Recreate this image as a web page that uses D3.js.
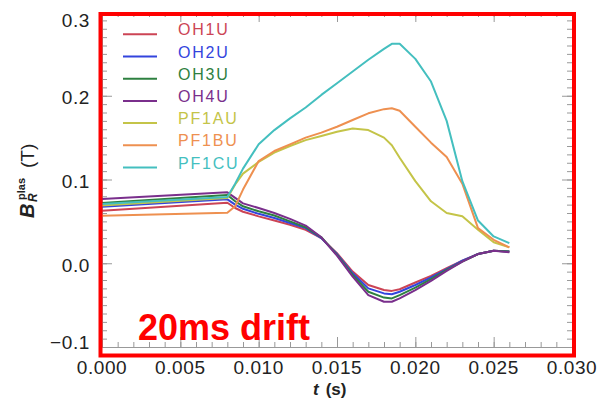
<!DOCTYPE html>
<html>
<head>
<meta charset="utf-8">
<script src="https://cdn.jsdelivr.net/npm/d3@7"></script>
<style>
  html, body { margin: 0; padding: 0; background: #fff; }
  svg { display: block; }
</style>
</head>
<body>
<svg id="chart" width="597" height="403"></svg>
<script>
// ---- data ----
const time = [0, 0.008, 0.0085, 0.009, 0.010, 0.011, 0.012, 0.013, 0.014, 0.015, 0.016, 0.017, 0.018, 0.0185, 0.019, 0.020, 0.021, 0.022, 0.023, 0.024, 0.025, 0.026];
const seriesNames = ["OH1U", "OH2U", "OH3U", "OH4U", "PF1AU", "PF1BU", "PF1CU"];
const OH1U  = [0.0626, 0.0722, 0.066, 0.0615, 0.056, 0.051, 0.046, 0.040, 0.030, 0.012, -0.010, -0.026, -0.032, -0.033, -0.031, -0.023, -0.015, -0.006, 0.003, 0.011, 0.015, 0.014];
const OH2U  = [0.0674, 0.0763, 0.070, 0.065, 0.059, 0.054, 0.048, 0.042, 0.030, 0.011, -0.012, -0.030, -0.036, -0.037, -0.034, -0.026, -0.017, -0.007, 0.003, 0.011, 0.015, 0.014];
const OH3U  = [0.0720, 0.0814, 0.074, 0.068, 0.062, 0.057, 0.050, 0.043, 0.031, 0.010, -0.014, -0.034, -0.041, -0.042, -0.038, -0.029, -0.019, -0.008, 0.002, 0.011, 0.015, 0.014];
const OH4U  = [0.0767, 0.0847, 0.078, 0.0715, 0.066, 0.060, 0.053, 0.045, 0.031, 0.009, -0.016, -0.038, -0.046, -0.046, -0.042, -0.032, -0.021, -0.009, 0.002, 0.011, 0.015, 0.013];
const PF1AU = [0.0690, 0.0780, 0.094, 0.107, 0.121, 0.132, 0.140, 0.147, 0.152, 0.157, 0.161, 0.159, 0.150, 0.141, 0.126, 0.098, 0.074, 0.060, 0.056, 0.040, 0.025, 0.019];
const PF1BU = [0.0566, 0.0602, 0.068, 0.088, 0.122, 0.134, 0.142, 0.150, 0.156, 0.163, 0.171, 0.179, 0.184, 0.185, 0.182, 0.163, 0.144, 0.127, 0.095, 0.042, 0.028, 0.019];
const PF1CU = [0.0707, 0.0790, 0.095, 0.113, 0.142, 0.159, 0.173, 0.186, 0.201, 0.215, 0.229, 0.243, 0.256, 0.262, 0.262, 0.244, 0.217, 0.170, 0.098, 0.051, 0.032, 0.024];
const xTicks = [0, 0.005, 0.010, 0.015, 0.020, 0.025, 0.030];
const yTicks = [-0.1, 0.0, 0.1, 0.2, 0.3];
const annotation = "20ms drift";

const seriesValues = [OH1U, OH2U, OH3U, OH4U, PF1AU, PF1BU, PF1CU];
const colors = ["#cc4455", "#3344dd", "#2e8040", "#7a2f8c", "#c4c448", "#ee9050", "#44bfbf"];

// ---- layout ----
const svg = d3.select("#chart");
const x = d3.scaleLinear().domain([0, 0.030]).range([102, 572]);
const y = d3.scaleLinear().domain([-0.1, 0.3]).range([347, 12]);
const tickColor = "#999";

// axes (ticks inward)
function styleAxis(g) {
  g.selectAll("path.domain").attr("stroke", tickColor).attr("stroke-width", 1);
  g.selectAll(".tick line").attr("stroke", tickColor).attr("stroke-width", 1);
  g.selectAll("text").remove();
}
const xMinor = d3.range(0, 0.0305, 0.001);
const yMinor = d3.range(-0.1, 0.3005, 0.01);

svg.append("g").attr("transform", "translate(0,347)")
  .call(d3.axisBottom(x).tickValues(xMinor).tickSize(-5).tickSizeOuter(0)).call(styleAxis);
svg.append("g").attr("transform", "translate(0,347)")
  .call(d3.axisBottom(x).tickValues(xTicks).tickSize(-10).tickSizeOuter(0)).call(styleAxis);
svg.append("g").attr("transform", "translate(0,12)")
  .call(d3.axisTop(x).tickValues(xMinor).tickSize(-5).tickSizeOuter(0)).call(styleAxis);
svg.append("g").attr("transform", "translate(0,12)")
  .call(d3.axisTop(x).tickValues(xTicks).tickSize(-10).tickSizeOuter(0)).call(styleAxis);
svg.append("g").attr("transform", "translate(102,0)")
  .call(d3.axisLeft(y).tickValues(yMinor).tickSize(-5).tickSizeOuter(0)).call(styleAxis);
svg.append("g").attr("transform", "translate(102,0)")
  .call(d3.axisLeft(y).tickValues(yTicks).tickSize(-10).tickSizeOuter(0)).call(styleAxis);
svg.append("g").attr("transform", "translate(572,0)")
  .call(d3.axisRight(y).tickValues(yMinor).tickSize(-5).tickSizeOuter(0)).call(styleAxis);
svg.append("g").attr("transform", "translate(572,0)")
  .call(d3.axisRight(y).tickValues(yTicks).tickSize(-10).tickSizeOuter(0)).call(styleAxis);

// tick labels
const fmt = d3.format(".3f");
svg.append("g").selectAll("text").data(xTicks).join("text")
  .attr("x", d => x(d)).attr("y", 374)
  .attr("text-anchor", "middle")
  .attr("font-family", "Liberation Sans, Arial, sans-serif")
  .attr("font-size", 19).attr("letter-spacing", 0.6).attr("fill", "#222")
  .text(d => fmt(d));

const yNudge = v => v === 0.3 ? 8 : (v === -0.1 ? -5 : 2);
svg.append("g").selectAll("text").data(yTicks).join("text")
  .attr("x", 90).attr("y", d => y(d) + yNudge(d))
  .attr("dy", "0.35em")
  .attr("text-anchor", "end")
  .attr("font-family", "Liberation Sans, Arial, sans-serif")
  .attr("font-size", 19).attr("letter-spacing", 0.6).attr("fill", "#222")
  .text(d => d === 0 ? "0.0" : (d < 0 ? "\u2212" + Math.abs(d).toFixed(1) : d.toFixed(1)));

// axis titles
const xt = svg.append("text").attr("x", 313).attr("y", 395)
  .attr("font-family", "Liberation Sans, Arial, sans-serif").attr("font-size", 17)
  .attr("font-weight", "bold").attr("fill", "#222");
xt.append("tspan").attr("font-style", "italic").text("t");
xt.append("tspan").attr("dx", 7).text("(s)");

const yt = svg.append("g").attr("transform", "translate(34,218) rotate(-90)")
  .attr("font-family", "Liberation Sans, Arial, sans-serif").attr("fill", "#222").attr("font-weight", "bold");
yt.append("text").attr("x", 0).attr("y", 0).attr("font-size", 20).attr("font-style", "italic").text("B");
yt.append("text").attr("x", 18).attr("y", -9).attr("font-size", 11).text("plas");
yt.append("text").attr("x", 16).attr("y", 3).attr("font-size", 12).attr("font-style", "italic").text("R");
yt.append("text").attr("x", 50).attr("y", 0).attr("font-size", 19).attr("font-weight", "normal").text("(T)");

// lines
const line = d3.line().x((d, i) => x(time[i])).y(d => y(d));
svg.append("g").selectAll("path").data(seriesValues).join("path")
  .attr("d", d => line(d))
  .attr("fill", "none")
  .attr("stroke", (d, i) => colors[i])
  .attr("stroke-width", 2)
  .attr("stroke-linejoin", "round");

// legend
const leg = svg.append("g").selectAll("g").data(seriesNames).join("g")
  .attr("transform", (d, i) => `translate(0,${34.3 + i * 22.2})`);
leg.append("line").attr("x1", 123).attr("x2", 157).attr("y1", 0).attr("y2", 0)
  .attr("stroke", (d, i) => colors[i]).attr("stroke-width", 2);
leg.append("text").attr("x", 178).attr("y", 1)
  .attr("font-family", "Liberation Sans, Arial, sans-serif")
  .attr("font-size", 16).attr("letter-spacing", 1.8)
  .attr("fill", (d, i) => colors[i]).text(d => d);

// red frame and annotation
svg.append("rect").attr("x", 100.5).attr("y", 14).attr("width", 473.5).attr("height", 341.5)
  .attr("fill", "none").attr("stroke", "#ff0000").attr("stroke-width", 4);
svg.append("text").attr("x", 138).attr("y", 340)
  .attr("font-family", "Liberation Sans, Arial, sans-serif")
  .attr("font-size", 36).attr("font-weight", "bold").attr("fill", "#ff0000")
  .text(annotation);
</script>
</body>
</html>
